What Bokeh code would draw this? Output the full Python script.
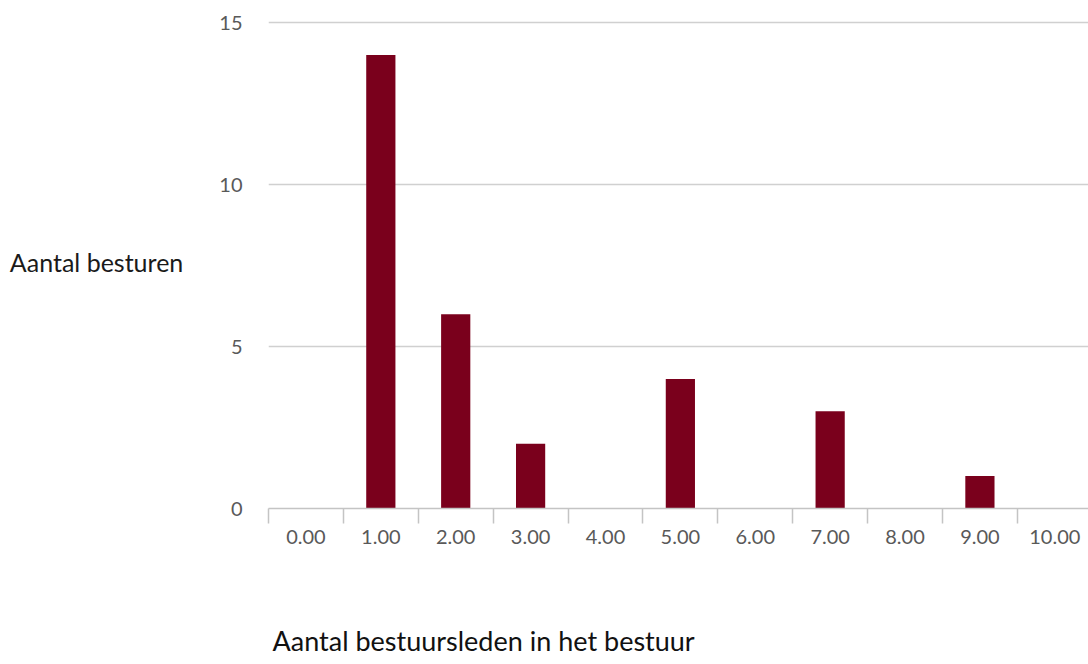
from bokeh.plotting import figure
from bokeh.models import Range1d, FixedTicker, LinearAxis, Title
from bokeh.embed import file_html
from bokeh.resources import INLINE

# ---- data ----
categories = ["0.00", "1.00", "2.00", "3.00", "4.00", "5.00",
              "6.00", "7.00", "8.00", "9.00", "10.00"]
counts = [0, 14, 6, 2, 0, 4, 0, 3, 0, 1, 0]
y_ticks = [0, 5, 10, 15]
x_title = "Aantal bestuursleden in het bestuur"
y_title = "Aantal besturen"

positions = list(range(len(categories)))
boundaries = [i - 0.5 for i in range(len(categories) + 1)]

p = figure(width=1088, height=664, output_backend="svg", toolbar_location=None,
           x_range=Range1d(-0.5, 10.45), y_range=Range1d(0, 15.25),
           min_border_left=268, min_border_right=0, min_border_top=14,
           min_border_bottom=156)
p.outline_line_color = None
p.background_fill_color = "white"

p.vbar(x=positions, top=counts, width=0.39, fill_color="#7a001c", line_color=None)

# x axis
xa = p.xaxis[0]
xa.ticker = FixedTicker(ticks=positions, minor_ticks=boundaries)
xa.major_label_overrides = {i: c for i, c in zip(positions, categories)}
xa.major_tick_line_color = None
xa.major_tick_out = 15
xa.major_tick_in = 0
xa.major_label_standoff = 6
xa.minor_tick_out = 15
xa.minor_tick_in = 0
xa.minor_tick_line_color = "#c4c4c4"
xa.minor_tick_line_width = 1.5
xa.axis_line_color = "#c4c4c4"
xa.axis_line_width = 1.5
xa.major_label_text_font = "Lato"
xa.major_label_text_font_size = "20px"
xa.major_label_text_color = "#595959"

# invisible spacer axis (white tick at the frame's left edge) to push the x title down
spacer = LinearAxis(ticker=FixedTicker(ticks=[boundaries[0]]), axis_line_color=None,
                    major_tick_line_color="white", major_tick_line_width=1,
                    minor_tick_line_color=None,
                    major_tick_out=73, major_tick_in=0, major_label_standoff=0,
                    major_label_overrides={boundaries[0]: ""},
                    major_label_text_font_size="1px")
p.add_layout(spacer, "below")

t = Title(text=x_title, align="left", offset=4, standoff=4,
          text_font="Lato", text_font_size="27px", text_font_style="normal",
          text_color="#111111")
p.add_layout(t, "below")

# y axis
ya = p.yaxis[0]
ya.ticker = FixedTicker(ticks=y_ticks)
ya.axis_line_color = None
ya.major_tick_line_color = None
ya.minor_tick_line_color = None
ya.major_tick_out = 0
ya.major_tick_in = 0
ya.major_label_standoff = 26
ya.major_label_text_font = "Lato"
ya.major_label_text_font_size = "20px"
ya.major_label_text_color = "#595959"
ya.axis_label = y_title
ya.axis_label_orientation = "horizontal"
ya.axis_label_standoff = 33
ya.axis_label_text_font = "Lato"
ya.axis_label_text_font_size = "25px"
ya.axis_label_text_font_style = "normal"
ya.axis_label_text_color = "#1a1a1a"

p.xgrid.grid_line_color = None
p.ygrid.grid_line_color = "#d0d0d0"
p.ygrid.grid_line_width = 1.5

open("out.html", "w").write(file_html(p, INLINE))
